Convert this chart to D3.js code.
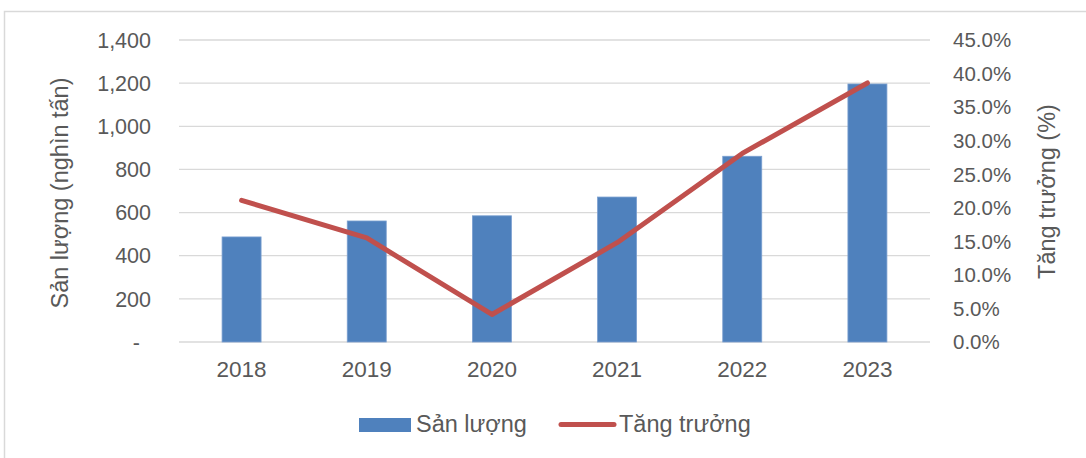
<!DOCTYPE html>
<html>
<head>
<meta charset="utf-8">
<script src="https://cdn.jsdelivr.net/npm/d3@7"></script>
<style>
  html, body { margin: 0; padding: 0; background: #fff; }
  svg { display: block; }
  text { font-family: "Liberation Sans", Arial, sans-serif; fill: #595959; }
</style>
</head>
<body>
<svg id="chart" width="1086" height="458"></svg>
<script>
const categories = ["2018", "2019", "2020", "2021", "2022", "2023"];
const production = [487, 561, 585, 672, 861, 1196];
const growth = [21.1, 15.5, 4.1, 14.8, 28.1, 38.6];
const leftTicks = [0, 200, 400, 600, 800, 1000, 1200, 1400];
const rightTicks = [0, 5, 10, 15, 20, 25, 30, 35, 40, 45];
const seriesNames = ["Sản lượng", "Tăng trưởng"];
const leftTitle = "Sản lượng (nghìn tấn)";
const rightTitle = "Tăng trưởng (%)";

const svg = d3.select("#chart");
const W = 1086, H = 458;
const plot = { left: 179, right: 930, top: 40, bottom: 342 };
const barColor = "#4F81BD", lineColor = "#C0504D", gridColor = "#D9D9D9";

// outer border
svg.append("rect").attr("x", 4.5).attr("y", 11.5).attr("width", W + 10).attr("height", H + 10)
  .attr("fill", "none").attr("stroke", gridColor).attr("stroke-width", 1.5);

const x = d3.scaleBand().domain(categories).range([plot.left, plot.right]).paddingInner(0).paddingOuter(0);
const yL = d3.scaleLinear().domain([0, 1400]).range([plot.bottom, plot.top]);
const yR = d3.scaleLinear().domain([0, 45]).range([plot.bottom, plot.top]);

// gridlines
svg.append("g").selectAll("line").data(leftTicks).join("line")
  .attr("x1", plot.left).attr("x2", plot.right)
  .attr("y1", d => yL(d)).attr("y2", d => yL(d))
  .attr("stroke", gridColor).attr("stroke-width", 1.3);

// left axis labels
const fmt = d3.format(",");
svg.append("g").selectAll("text").data(leftTicks).join("text")
  .attr("x", d => d === 0 ? 140 : 151)
  .attr("y", d => yL(d))
  .attr("dy", "0.36em")
  .attr("text-anchor", "end")
  .style("font-size", "21.5px")
  .text(d => d === 0 ? "-" : fmt(d));

// right axis labels
svg.append("g").selectAll("text").data(rightTicks).join("text")
  .attr("x", 953)
  .attr("y", d => yR(d))
  .attr("dy", "0.36em")
  .attr("text-anchor", "start")
  .style("font-size", "20.5px")
  .text(d => d.toFixed(1) + "%");

// x labels
svg.append("g").selectAll("text").data(categories).join("text")
  .attr("x", d => x(d) + x.bandwidth() / 2)
  .attr("y", 377)
  .attr("text-anchor", "middle")
  .style("font-size", "22.5px")
  .text(d => d);

// bars
const bw = 39;
svg.append("g").selectAll("rect").data(categories).join("rect")
  .attr("x", d => x(d) + x.bandwidth() / 2 - bw / 2)
  .attr("y", (d, i) => yL(production[i]))
  .attr("width", bw)
  .attr("height", (d, i) => yL(0) - yL(production[i]))
  .attr("fill", barColor)
  .attr("stroke", "#7A9FD0").attr("stroke-width", 0.8);

// line
const line = d3.line()
  .x((d, i) => x(categories[i]) + x.bandwidth() / 2)
  .y(d => yR(d));
svg.append("path").datum(growth)
  .attr("d", line)
  .attr("fill", "none")
  .attr("stroke", lineColor)
  .attr("stroke-width", 5)
  .attr("stroke-linejoin", "round")
  .attr("stroke-linecap", "round");

// axis titles
svg.append("text")
  .attr("transform", "translate(68,193) rotate(-90)")
  .attr("text-anchor", "middle")
  .style("font-size", "23.5px")
  .text(leftTitle);
svg.append("text")
  .attr("transform", "translate(1055,191.5) rotate(-90)")
  .attr("text-anchor", "middle")
  .style("font-size", "23.5px")
  .text(rightTitle);

// legend
const lg = svg.append("g");
lg.append("rect").attr("x", 359).attr("y", 418).attr("width", 52).attr("height", 14).attr("fill", barColor);
lg.append("text").attr("x", 416).attr("y", 432).style("font-size", "23.5px").text(seriesNames[0]);
lg.append("line").attr("x1", 561).attr("x2", 614).attr("y1", 424.5).attr("y2", 424.5)
  .attr("stroke", lineColor).attr("stroke-width", 5).attr("stroke-linecap", "round");
lg.append("text").attr("x", 619).attr("y", 432).style("font-size", "23.5px").text(seriesNames[1]);
</script>
</body>
</html>
